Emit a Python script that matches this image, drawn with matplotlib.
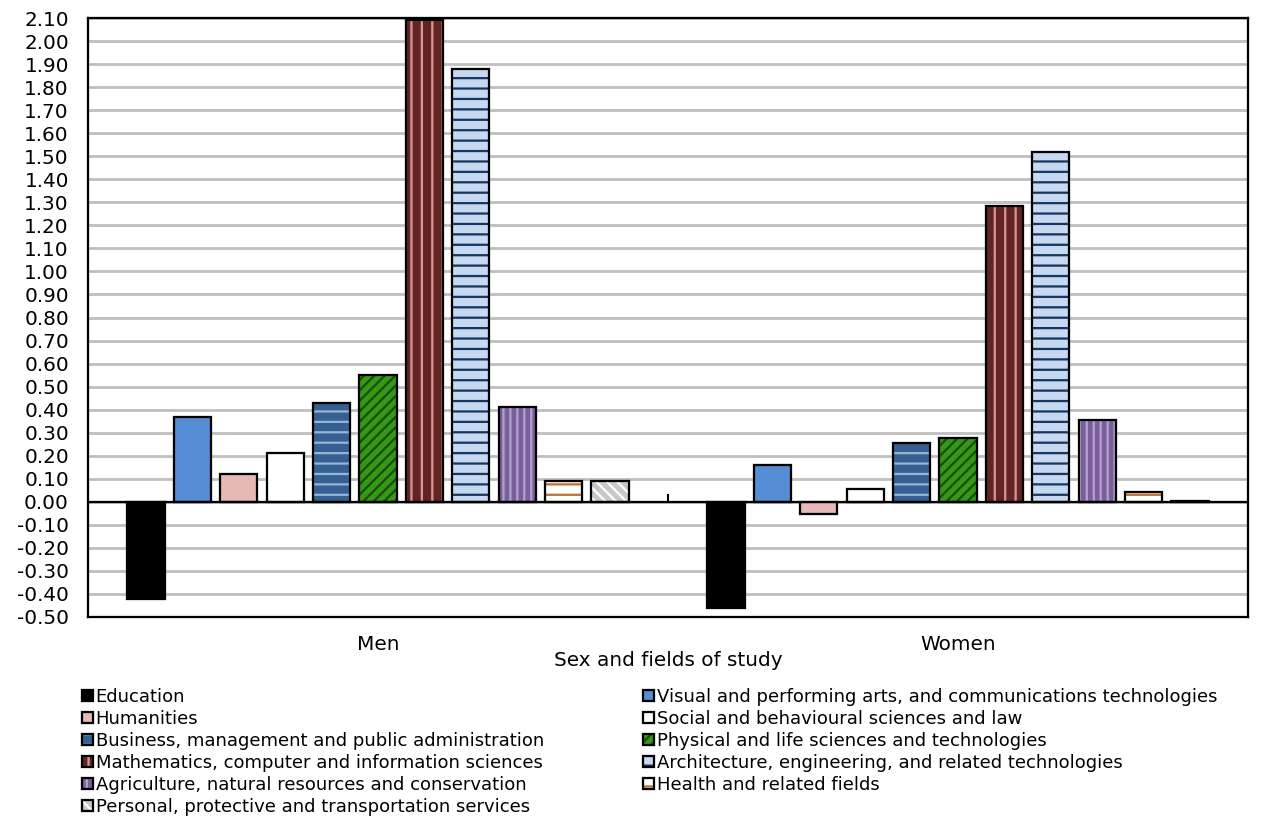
import matplotlib.pyplot as plt
import numpy as np
from matplotlib.legend_handler import HandlerTuple

plt.rcParams['font.family'] = ['DejaVu Sans']
plt.rcParams['hatch.linewidth'] = 1.3

groups = ['Men', 'Women']
fields = ['Education',
          'Visual and performing arts, and communications technologies',
          'Humanities',
          'Social and behavioural sciences and law',
          'Business, management and public administration',
          'Physical and life sciences and technologies',
          'Mathematics, computer and information sciences',
          'Architecture, engineering, and related technologies',
          'Agriculture, natural resources and conservation',
          'Health and related fields',
          'Personal, protective and transportation services']
men = [-0.42, 0.37, 0.12, 0.21, 0.43, 0.55, 2.09, 1.88, 0.41, 0.09, 0.09]
women = [-0.46, 0.16, -0.055, 0.055, 0.255, 0.275, 1.285, 1.52, 0.355, 0.043, 0.003]

# face colour, hatch colour, hatch pattern
styles = [('#000000', '#000000', None),
          ('#558ED5', '#558ED5', None),
          ('#E6B9B8', '#E6B9B8', None),
          ('#FFFFFF', '#FFFFFF', None),
          ('#376092', '#95B3D7', '--'),
          ('#339A14', '#1E4A10', '////'),
          ('#632523', '#D99594', '||'),
          ('#C6D9F1', '#17375E', '--'),
          ('#7A5E9E', '#B3A2C7', '|||'),
          ('#FFFFFF', '#C0702F', '--'),
          ('#C8C8C8', '#FFFFFF', '\\\\\\\\')]

fig = plt.figure(figsize=(1261 / 125, 820 / 125), dpi=125)
ax = fig.add_axes([88 / 1261, 1 - 617 / 820, 1160 / 1261, 599 / 820])

x = np.arange(len(groups))
pitch = 0.08
width = 0.064
handles = []
for i, f in enumerate(fields):
    vals = [men[i], women[i]]
    pos = x + (i - 5) * pitch
    face, hc, h = styles[i]
    b1 = ax.bar(pos, vals, width, color=face, edgecolor=hc, hatch=h, linewidth=0, zorder=2)
    b2 = ax.bar(pos, vals, width, fill=False, edgecolor='black', linewidth=1.3, zorder=3)
    handles.append((b1[0], b2[0]))

ax.set_xlim(-0.5, 1.5)
ax.set_ylim(-0.5, 2.1)
ticks = np.round(np.arange(-0.5, 2.11, 0.1), 2)
ax.set_yticks(ticks)
ax.set_yticklabels(['%.2f' % t if abs(t) > 1e-9 else '0.00' for t in ticks])
ax.yaxis.grid(True, color='#BFBFBF', linewidth=1.6, zorder=0)
ax.set_axisbelow(True)
ax.axhline(0, color='black', linewidth=1.3, zorder=4)
ax.plot([0.5, 0.5], [0, 0.03], color='black', linewidth=1.2, zorder=4)
ax.set_xticks(x)
ax.set_xticklabels(groups)
ax.tick_params(axis='both', length=0, labelsize=11.5, colors='black')
ax.tick_params(axis='x', pad=10.5)
ax.tick_params(axis='y', pad=11)
for s in ax.spines.values():
    s.set_linewidth(1.3)
ax.set_xlabel('Sex and fields of study', fontsize=11.5, labelpad=-2)

order1 = [0, 2, 4, 6, 8, 10]
order2 = [1, 3, 5, 7, 9]
kw = dict(frameon=False, fontsize=10.4, handlelength=0.6, handleheight=0.6,
          handletextpad=0.15, labelspacing=0.22, borderaxespad=0, borderpad=0,
          handler_map={tuple: HandlerTuple(ndivide=1, pad=0)})
fig.legend([handles[i] for i in order1], [fields[i] for i in order1],
           loc='upper left', bbox_to_anchor=(82 / 1261, 1 - 688 / 820), **kw)
fig.legend([handles[i] for i in order2], [fields[i] for i in order2],
           loc='upper left', bbox_to_anchor=(643 / 1261, 1 - 688 / 820), **kw)

fig.savefig('out.png', dpi=125)
